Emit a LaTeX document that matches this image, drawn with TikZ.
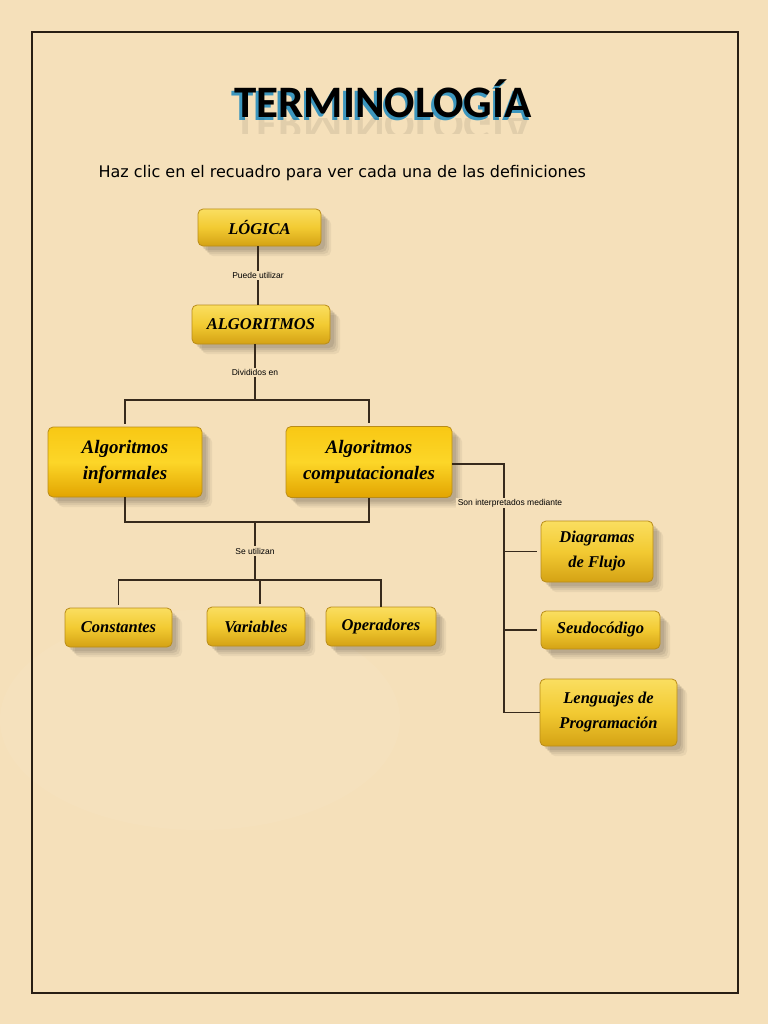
\documentclass[tikz,border=0pt]{standalone}
\usepackage{fontspec}
\setmainfont{Liberation Serif}
\newfontfamily\titlefont{Carlito}
\newfontfamily\subfont{DejaVu Sans}
\newfontfamily\lblfont{Liberation Sans}
\usetikzlibrary{fadings}
\definecolor{bg}{RGB}{245,224,186}
\definecolor{frame}{RGB}{40,30,20}
\definecolor{conncol}{RGB}{55,42,28}
\definecolor{titleshadow}{RGB}{60,150,190}
\definecolor{gtop}{RGB}{250,222,96}
\definecolor{gmid}{RGB}{242,202,50}
\definecolor{gbot}{RGB}{212,162,20}
\definecolor{btop}{RGB}{248,200,20}
\definecolor{bmid}{RGB}{252,214,40}
\definecolor{bbot}{RGB}{226,164,0}
\definecolor{gedge}{RGB}{185,140,25}
\tikzset{
  softshadow/.style={
    preaction={fill=black, opacity=0.05, transform canvas={shift={(10pt,-10pt)}}},
    preaction={fill=black, opacity=0.06, transform canvas={shift={(8pt,-8pt)}}},
    preaction={fill=black, opacity=0.07, transform canvas={shift={(6pt,-6pt)}}},
    preaction={fill=black, opacity=0.08, transform canvas={shift={(4pt,-4pt)}}}},
  gbox/.style={rounded corners=5pt, softshadow, draw=gedge, line width=0.8pt,
    top color=gtop, bottom color=gbot, middle color=gmid,
    align=center, inner sep=0pt,
    font=\fontsize{16.5}{25}\selectfont\bfseries\itshape},
  bbox/.style={gbox, top color=btop, bottom color=bbot, middle color=bmid,
    font=\fontsize{19}{26}\selectfont\bfseries\itshape},
  conn/.style={draw=conncol, line width=1.3pt},
  lbl/.style={fill=bg, inner sep=1.5pt, font=\lblfont\fontsize{8.5}{10}\selectfont},
}
\begin{document}
\begin{tikzpicture}[x=1pt,y=-1pt]
\useasboundingbox (0,0) rectangle (768,1024);
\fill[bg] (0,0) rectangle (768,1024);
\fill[white,opacity=0.05] (200,720) ellipse (200 and 110);
\draw[frame, line width=1.3pt] (32,32) rectangle (738,993);

% title
\node[font=\titlefont\bfseries\fontsize{45}{50}\selectfont, text=titleshadow] at (380.5,101.5) {TERMINOLOGÍA};
\node (title) [font=\titlefont\bfseries\fontsize{45}{50}\selectfont, text=black] at (383,99) {TERMINOLOGÍA};
\begin{scope}
\clip (220,119) rectangle (560,134);
\node[font=\titlefont\bfseries\fontsize{45}{50}\selectfont, text=black, opacity=0.08, yscale=-1] at (383,129) {TERMINOLOGÍA};
\end{scope}

\node (sub) [font=\subfont\fontsize{16}{18}\selectfont, anchor=west] at (95,173) {Haz clic en el recuadro para ver cada una de las definiciones};

% boxes
\node (logica) [gbox, minimum width=123pt, minimum height=37pt] at (259.5,227.5) {LÓGICA};
\node (algo) [gbox, minimum width=138pt, minimum height=39pt] at (261,324.5) {ALGORITMOS};
\node (inf) [bbox, minimum width=154pt, minimum height=70pt] at (125,462) {Algoritmos\\informales};
\node (comp) [bbox, minimum width=166pt, minimum height=71pt] at (369,462) {Algoritmos\\computacionales};
\node (const) [gbox, minimum width=107pt, minimum height=39pt] at (118.5,627.5) {Constantes};
\node (var) [gbox, minimum width=98pt, minimum height=39pt] at (256,626.5) {Variables};
\node (oper) [gbox, minimum width=110pt, minimum height=39pt] at (381,626.5) {Operadores};
\node (diag) [gbox, minimum width=112pt, minimum height=61pt] at (597,551.5) {Diagramas\\de Flujo};
\node (seudo) [gbox, minimum width=119pt, minimum height=38pt] at (600.5,630) {Seudocódigo};
\node (leng) [gbox, minimum width=137pt, minimum height=67pt] at (608.5,712.5) {Lenguajes de\\Programación};

% junctions
\coordinate (j1) at (255,400);
\coordinate (j2) at (255,522);
\coordinate (j3) at (255,580);
\coordinate (j4) at (504,464);

% connectors
\draw[conn] (logica.south -| 258,0) -- node[lbl] {Puede utilizar} (algo.north -| 258,0);
\draw[conn] (algo.south -| j1) -- node[lbl, pos=0.5] {Divididos en} (j1);
\draw[conn, shorten <=3pt, shorten >=3pt] (inf.north) -- (inf.north |- j1) -- (comp.north |- j1) -- (comp.north);
\draw[conn] (inf.south) -- (inf.south |- j2) -- (comp.south |- j2) -- (comp.south);
\draw[conn] (j2) -- node[lbl] {Se utilizan} (j3);
\draw[conn, shorten <=3pt] (const.north) -- (const.north |- j3) -- (oper.north |- j3) -- (oper.north);
\draw[conn, shorten <=3pt] (var.north -| 260,0) -- (j3 -| 260,0);
\draw[conn] (comp.east |- j4) -- (j4) -- (j4 |- leng.west) -- (leng.west);
\draw[conn, shorten >=4pt] (j4 |- diag.west) -- (diag.west);
\draw[conn, shorten >=4pt] (j4 |- seudo.west) -- (seudo.west);
\node (lblson) [lbl] at (510,503) {Son interpretados mediante};
\end{tikzpicture}
\end{document}
